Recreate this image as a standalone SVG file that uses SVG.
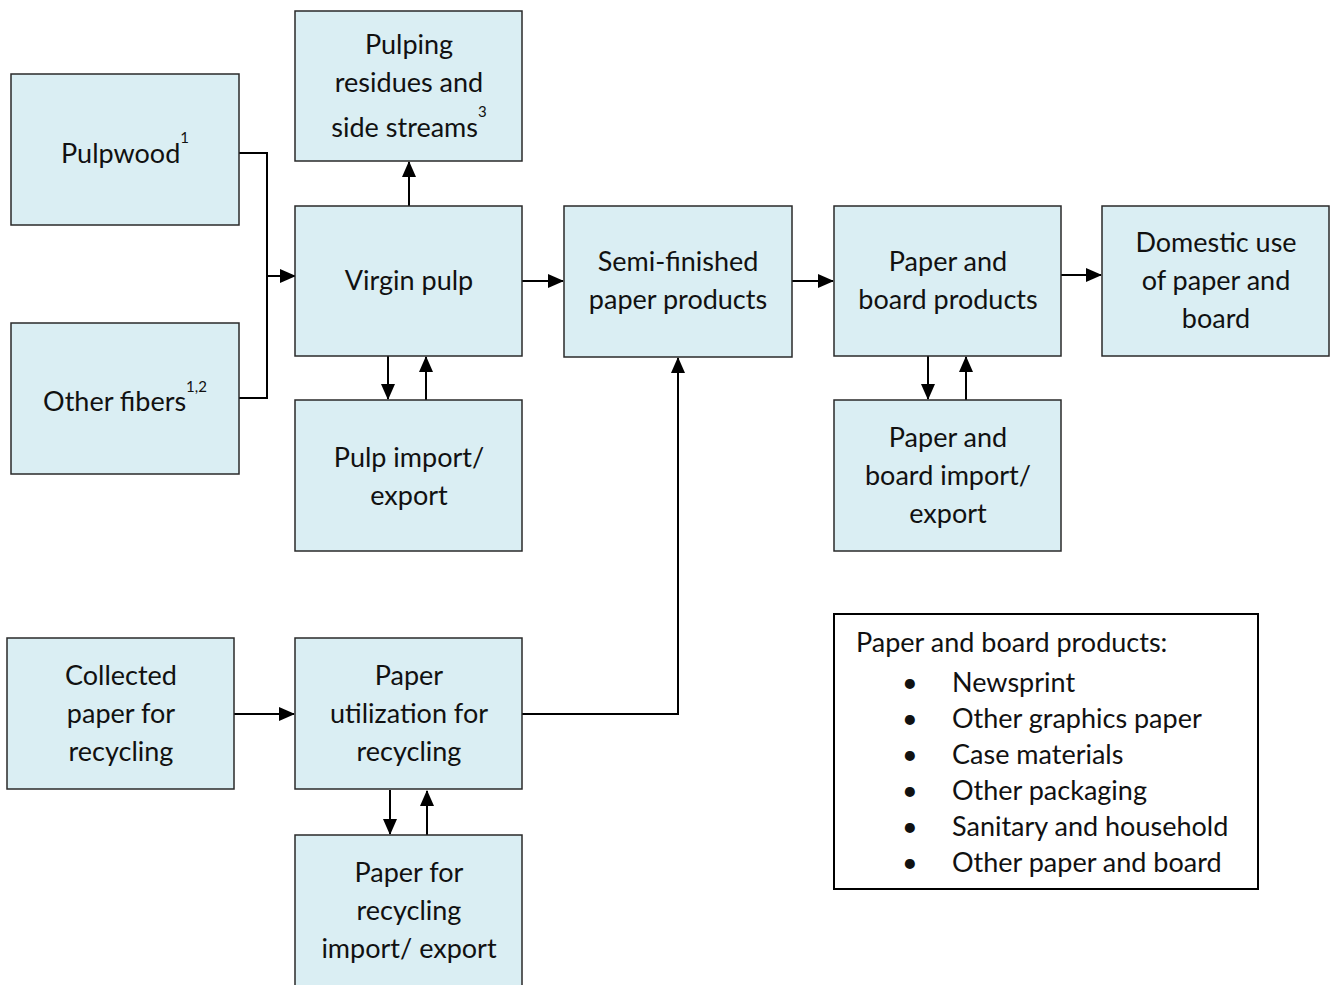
<svg xmlns="http://www.w3.org/2000/svg" width="1337" height="985" viewBox="0 0 1337 985">
<style>
.box{fill:#DAEEF3;stroke:#2a2a2a;stroke-width:1.5}
.t{font-family:Lato,"Liberation Sans",sans-serif;font-size:27px;fill:#111;text-anchor:middle}
.sup{font-size:15px}
.lt{font-family:Lato,"Liberation Sans",sans-serif;font-size:27px;fill:#111}
.c{fill:none;stroke:#000;stroke-width:2}
</style>
<defs>
<marker id="ah" markerWidth="16" markerHeight="14" refX="15" refY="7" orient="auto" markerUnits="userSpaceOnUse">
<path d="M0,0 L16,7 L0,14 Z" fill="#000"/>
</marker>
</defs>
<rect x="0" y="0" width="1337" height="985" fill="#fff"/>

<g id="connectors">
<path class="c" d="M239,153 H267 V398 H239"/>
<path class="c" d="M267,276 H295" marker-end="url(#ah)"/>
<path class="c" d="M409,206 V162" marker-end="url(#ah)"/>
<path class="c" d="M522,281 H563" marker-end="url(#ah)"/>
<path class="c" d="M792,281 H833" marker-end="url(#ah)"/>
<path class="c" d="M1061,275 H1101" marker-end="url(#ah)"/>
<path class="c" d="M388,356 V399" marker-end="url(#ah)"/>
<path class="c" d="M426,400 V357" marker-end="url(#ah)"/>
<path class="c" d="M928,356 V399" marker-end="url(#ah)"/>
<path class="c" d="M966,400 V357" marker-end="url(#ah)"/>
<path class="c" d="M234,714 H294" marker-end="url(#ah)"/>
<path class="c" d="M522,714 H678 V358" marker-end="url(#ah)"/>
<path class="c" d="M390,790 V834" marker-end="url(#ah)"/>
<path class="c" d="M427,835 V791" marker-end="url(#ah)"/>
</g>

<g id="pulpwood"><rect class="box" x="11" y="74" width="228" height="151"/>
<text class="t" x="125" y="163">Pulpwood<tspan class="sup" dy="-20">1</tspan></text></g>

<g id="other-fibers"><rect class="box" x="11" y="323" width="228" height="151"/>
<text class="t" x="125" y="411">Other fibers<tspan class="sup" dy="-19">1,2</tspan></text></g>

<g id="pulping-residues"><rect class="box" x="295" y="11" width="227" height="150"/>
<text class="t" x="409" y="54">Pulping</text>
<text class="t" x="409" y="92">residues and</text>
<text class="t" x="409" y="137">side streams<tspan class="sup" dy="-20">3</tspan></text></g>

<g id="virgin-pulp"><rect class="box" x="295" y="206" width="227" height="150"/>
<text class="t" x="409" y="290">Virgin pulp</text></g>

<g id="pulp-import-export"><rect class="box" x="295" y="400" width="227" height="151"/>
<text class="t" x="409" y="467">Pulp import/</text>
<text class="t" x="409" y="505">export</text></g>

<g id="semi-finished"><rect class="box" x="564" y="206" width="228" height="151"/>
<text class="t" x="678" y="271">Semi-finished</text>
<text class="t" x="678" y="309">paper products</text></g>

<g id="paper-board-products"><rect class="box" x="834" y="206" width="227" height="150"/>
<text class="t" x="948" y="271">Paper and</text>
<text class="t" x="948" y="309">board products</text></g>

<g id="domestic-use"><rect class="box" x="1102" y="206" width="227" height="150"/>
<text class="t" x="1216" y="252">Domestic use</text>
<text class="t" x="1216" y="290">of paper and</text>
<text class="t" x="1216" y="328">board</text></g>

<g id="pb-import-export"><rect class="box" x="834" y="400" width="227" height="151"/>
<text class="t" x="948" y="447">Paper and</text>
<text class="t" x="948" y="485">board import/</text>
<text class="t" x="948" y="523">export</text></g>

<g id="collected-paper"><rect class="box" x="7" y="638" width="227" height="151"/>
<text class="t" x="121" y="685">Collected</text>
<text class="t" x="121" y="723">paper for</text>
<text class="t" x="121" y="761">recycling</text></g>

<g id="paper-utilization"><rect class="box" x="295" y="638" width="227" height="151"/>
<text class="t" x="409" y="685">Paper</text>
<text class="t" x="409" y="723">utilization for</text>
<text class="t" x="409" y="761">recycling</text></g>

<g id="recycling-import-export"><rect class="box" x="295" y="835" width="227" height="160"/>
<text class="t" x="409" y="882">Paper for</text>
<text class="t" x="409" y="920">recycling</text>
<text class="t" x="409" y="958">import/ export</text></g>

<g id="legend"><rect x="834" y="614" width="424" height="275" fill="#fff" stroke="#000" stroke-width="2"/>
<text class="lt" x="856" y="652">Paper and board products:</text>
<text class="lt" x="902" y="692">•</text><text class="lt" x="952" y="692">Newsprint</text>
<text class="lt" x="902" y="728">•</text><text class="lt" x="952" y="728">Other graphics paper</text>
<text class="lt" x="902" y="764">•</text><text class="lt" x="952" y="764">Case materials</text>
<text class="lt" x="902" y="800">•</text><text class="lt" x="952" y="800">Other packaging</text>
<text class="lt" x="902" y="836">•</text><text class="lt" x="952" y="836">Sanitary and household</text>
<text class="lt" x="902" y="872">•</text><text class="lt" x="952" y="872">Other paper and board</text>
</g>
</svg>
